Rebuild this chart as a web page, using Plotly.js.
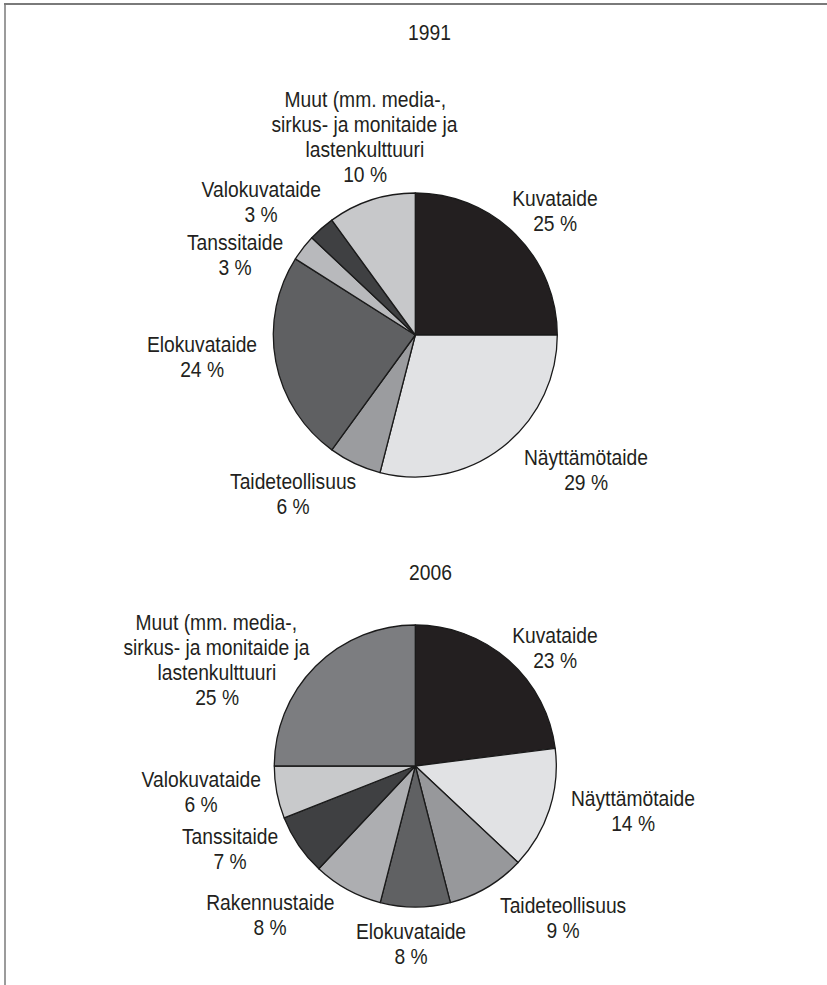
<!DOCTYPE html>
<html>
<head>
<meta charset="utf-8">
<script src="https://cdn.plot.ly/plotly-3.0.1.min.js"></script>
<style>
html,body{margin:0;padding:0;background:#fff;}
#chart{width:827px;height:985px;}
</style>
</head>
<body>
<div id="chart"></div>
<script>
// ---- data ----
var years = ["1991", "2006"];

var labels1991 = ["Kuvataide", "Näyttämötaide", "Taideteollisuus", "Elokuvataide", "Tanssitaide", "Valokuvataide", "Muut (mm. media-,<br>sirkus- ja monitaide ja<br>lastenkulttuuri"];
var values1991 = [25, 29, 6, 24, 3, 3, 10];
var colors1991 = ["#231f20", "#e1e2e4", "#9b9c9f", "#5f6062", "#b8b9bc", "#3f4042", "#c7c8ca"];

var labels2006 = ["Kuvataide", "Näyttämötaide", "Taideteollisuus", "Elokuvataide", "Rakennustaide", "Tanssitaide", "Valokuvataide", "Muut (mm. media-,<br>sirkus- ja monitaide ja<br>lastenkulttuuri"];
var values2006 = [23, 14, 9, 8, 8, 7, 6, 25];
var colors2006 = ["#231f20", "#e1e2e4", "#97989b", "#606163", "#adaeb1", "#3f4042", "#c8c9cb", "#7c7d80"];

// ---- layout helpers (pixel positions -> paper) ----
var W = 827, H = 985;
function px(x){ return x / W; }
function py(y){ return 1 - y / H; }

var FONT = "Liberation Sans, Arial, Helvetica, sans-serif";
var TXT = "#231f20";
var LH = 25;   // line height in px
var FS = 22;
var SQUEEZE = 0.875; // horizontal condensing of label text

// label block centres (pixels) for each slice
var pos1991 = [[555, 211], [586, 470], [293, 494], [202, 357], [235, 255], [261, 202], [365, 137]];
var pos2006 = [[555, 648], [633, 811], [563, 918], [411, 944], [270, 915], [230, 849], [201, 792], [217, 660]];

var annotations = [];
function addLabels(labels, values, pos){
  for (var i = 0; i < labels.length; i++){
    var lines = labels[i].split("<br>");
    lines.push(values[i] + " %");
    var n = lines.length;
    for (var j = 0; j < n; j++){
      annotations.push({
        xref: "paper", yref: "paper",
        x: px(pos[i][0]), y: py(pos[i][1] + (j - (n - 1) / 2) * LH),
        xanchor: "center", yanchor: "middle",
        text: lines[j], showarrow: false,
        font: {family: FONT, size: FS, color: TXT}
      });
    }
  }
}
addLabels(labels1991, values1991, pos1991);
addLabels(labels2006, values2006, pos2006);

// year titles
var titlePos = [[429, 33], [430, 572]];
for (var k = 0; k < years.length; k++){
  annotations.push({
    xref: "paper", yref: "paper",
    x: px(titlePos[k][0]), y: py(titlePos[k][1]),
    xanchor: "center", yanchor: "middle",
    text: years[k], showarrow: false,
    font: {family: FONT, size: FS, color: TXT}
  });
}

function dom(cx, cy, r){
  return {x: [px(cx - r), px(cx + r)], y: [py(cy + r), py(cy - r)]};
}

var traces = [
  {
    type: "pie", labels: labels1991, values: values1991,
    marker: {colors: colors1991, line: {color: "#1a1a1a", width: 1.3}},
    sort: false, direction: "clockwise", rotation: 0,
    textinfo: "none", hoverinfo: "label+value",
    domain: dom(415.3, 335, 142), showlegend: false
  },
  {
    type: "pie", labels: labels2006, values: values2006,
    marker: {colors: colors2006, line: {color: "#1a1a1a", width: 1.3}},
    sort: false, direction: "clockwise", rotation: 0,
    textinfo: "none", hoverinfo: "label+value",
    domain: dom(415.3, 766, 141), showlegend: false
  }
];

var layout = {
  width: W, height: H,
  margin: {l: 0, r: 0, t: 0, b: 0},
  paper_bgcolor: "#ffffff",
  showlegend: false,
  annotations: annotations,
  shapes: [
    {type: "line", xref: "paper", yref: "paper", x0: px(4), x1: 1, y0: py(4), y1: py(4), line: {color: "#7a7a7a", width: 2}},
    {type: "line", xref: "paper", yref: "paper", x0: px(5), x1: px(5), y0: py(4), y1: 0, line: {color: "#7a7a7a", width: 1.5}}
  ]
};

Plotly.newPlot("chart", traces, layout, {displayModeBar: false, staticPlot: true}).then(function(gd){
  // condense the label text horizontally around its own centre (the reference uses a condensed face)
  var texts = gd.querySelectorAll(".annotation-text");
  texts.forEach(function(t){
    var b = t.getBBox();
    var cx = b.x + b.width / 2;
    t.setAttribute("transform", "translate(" + cx + ",0) scale(" + SQUEEZE + ",1) translate(" + (-cx) + ",0)");
  });
});
</script>
</body>
</html>
